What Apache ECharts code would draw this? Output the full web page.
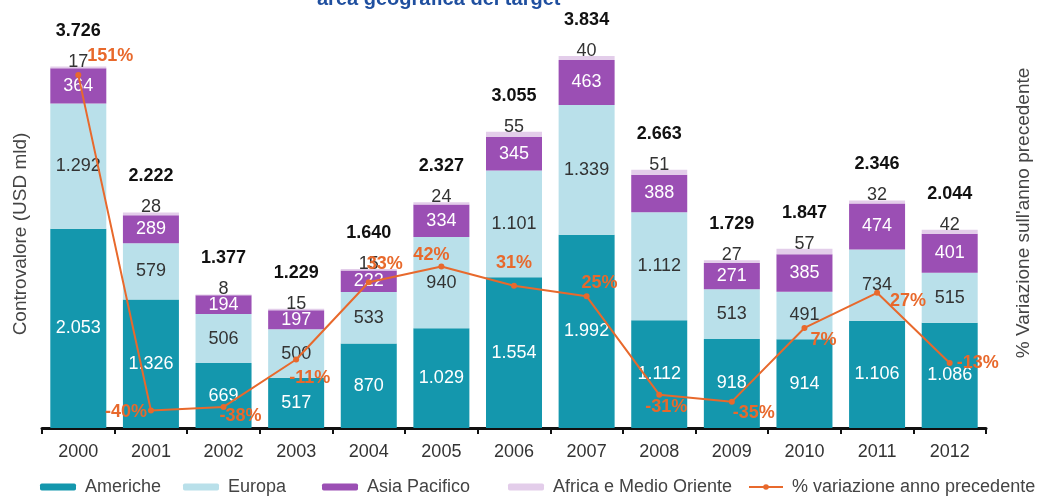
<!DOCTYPE html>
<html>
<head>
<meta charset="utf-8">
<script src="https://cdn.jsdelivr.net/npm/echarts@6/dist/echarts.min.js"></script>
<style>html,body{margin:0;padding:0;background:#fff}#c{width:1041px;height:498px}</style>
</head>
<body>
<div id="c"></div>
<script>
const years = ['2000','2001','2002','2003','2004','2005','2006','2007','2008','2009','2010','2011','2012'];
const americhe = [2053,1326,669,517,870,1029,1554,1992,1112,918,914,1106,1086];
const europa = [1292,579,506,500,533,940,1101,1339,1112,513,491,734,515];
const asiaPacifico = [364,289,194,197,222,334,345,463,388,271,385,474,401];
const africaMO = [17,28,8,15,15,24,55,40,51,27,57,32,42];
const totali = [3726,2222,1377,1229,1640,2327,3055,3834,2663,1729,1847,2346,2044];
const variazione = [151,-40,-38,-11,33,42,31,25,-31,-35,7,27,-13];

// label placement for each % point [position, dx, dy]
const pctPos = [['right',3,-19],['left',2,2],['right',-10,9],['right',-13,19],['top',16,-3],['top',-10,4],['top',0,-8],['top',13,2],['bottom',7,-3],['right',-5,11],['right',0,12],['right',7,8],['right',1,0]];

const fmt = n => String(n).replace(/\B(?=(\d{3})+(?!\d))/g, '.');
const FONT = 'Liberation Sans';
const FS = 18;
const C_AM = '#1497ad', C_EU = '#b9e0ea', C_AS = '#9b4fb4', C_AF = '#e3cdea', C_LN = '#e8692c';

const chart = echarts.init(document.getElementById('c'));
const legendBase = {top: 478, padding: 0, itemWidth: 36, itemHeight: 7, textStyle: {fontFamily: FONT, fontSize: FS, color: '#444', padding: [0,0,0,4]}};
chart.setOption({
  animation: false,
  textStyle: {fontFamily: FONT},
  title: {text: 'area geografica del target', left: 312, top: -16,
    textStyle: {fontFamily: FONT, fontSize: 20, fontWeight: 'bold', color: '#1f4f9f'}},
  legend: [
    Object.assign({}, legendBase, {left: 40, data: ['Americhe']}),
    Object.assign({}, legendBase, {left: 183, data: ['Europa']}),
    Object.assign({}, legendBase, {left: 322, data: ['Asia Pacifico']}),
    Object.assign({}, legendBase, {left: 508, data: ['Africa e Medio Oriente']}),
    Object.assign({}, legendBase, {left: 748, itemWidth: 34, data: ['% variazione anno precedente']})
  ],
  grid: {left: 42, right: 48, top: 40, bottom: 70},
  xAxis: {
    type: 'category', data: years,
    axisLine: {lineStyle: {color: '#111', width: 3}},
    axisTick: {show: true, length: 6, lineStyle: {color: '#111', width: 2}},
    axisLabel: {fontSize: FS, color: '#333', margin: 15}
  },
  yAxis: [
    {type: 'value', min: 0, max: 4000, axisLabel: {show: false}, axisLine: {show: false}, axisTick: {show: false}, splitLine: {show: false},
     name: 'Controvalore (USD mld)', nameLocation: 'middle', nameRotate: 90, nameGap: 12,
     nameTextStyle: {fontSize: 19, color: '#444'}},
    {type: 'value', min: -50, max: 171, axisLabel: {show: false}, axisLine: {show: false}, axisTick: {show: false}, splitLine: {show: false},
     name: '% Variazione sull\'anno precedente', nameLocation: 'middle', nameRotate: 90, nameGap: 28,
     nameTextStyle: {fontSize: 19, color: '#444', padding: [0, 0, 0, 42]}}
  ],
  series: [
    {name: 'Americhe', type: 'bar', stack: 'tot', barWidth: 56, data: americhe, itemStyle: {color: C_AM},
     label: {show: true, position: 'inside', color: '#fff', fontSize: FS, formatter: p => fmt(p.value)}},
    {name: 'Europa', type: 'bar', stack: 'tot', data: europa, itemStyle: {color: C_EU},
     label: {show: true, position: 'inside', color: '#333', fontSize: FS, formatter: p => fmt(p.value)}},
    {name: 'Asia Pacifico', type: 'bar', stack: 'tot', data: asiaPacifico, itemStyle: {color: C_AS},
     label: {show: true, position: 'inside', color: '#fff', fontSize: FS, formatter: p => fmt(p.value)}},
    {name: 'Africa e Medio Oriente', type: 'bar', stack: 'tot', data: africaMO, itemStyle: {color: C_AF},
     label: {show: true, position: 'top', distance: -4,
       formatter: p => '{t|' + fmt(totali[p.dataIndex]) + '}\n{a|' + fmt(p.value) + '}',
       rich: {t: {fontSize: FS, fontWeight: 'bold', color: '#111', lineHeight: 44},
              a: {fontSize: FS, color: '#333', lineHeight: 18}}}},
    {name: '% variazione anno precedente', type: 'line', yAxisIndex: 1, z: 10,
     data: variazione.map((v, i) => ({value: v, label: {position: pctPos[i][0], offset: [pctPos[i][1], pctPos[i][2]]}})),
     symbol: 'circle', symbolSize: 6, lineStyle: {color: C_LN, width: 2}, itemStyle: {color: C_LN},
     label: {show: true, color: C_LN, fontSize: FS, fontWeight: 'bold', distance: 3, formatter: p => p.value + '%'}}
  ]
});
</script>
</body>
</html>
